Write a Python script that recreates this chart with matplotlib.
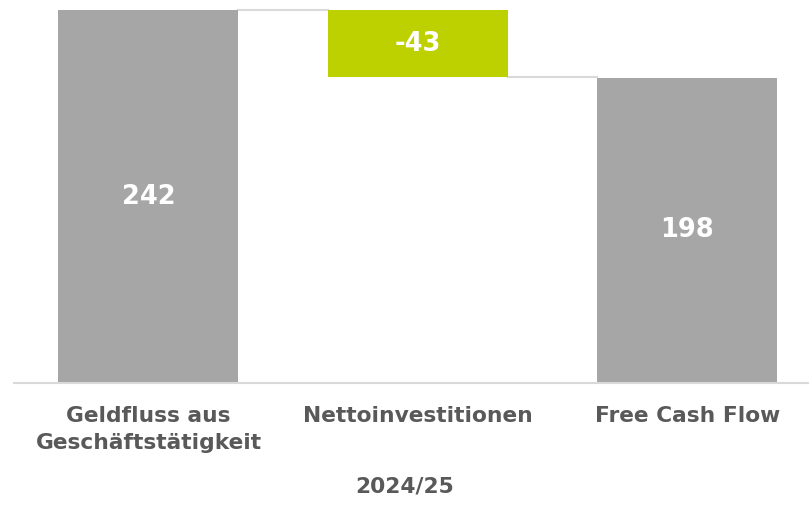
import matplotlib
matplotlib.use("Agg")
import matplotlib.pyplot as plt

categories = ["Geldfluss aus\nGeschäftstätigkeit", "Nettoinvestitionen", "Free Cash Flow"]
start_value = 242
change_value = -43.5
end_value = 198
value_labels = ["242", "-43", "198"]
period_label = "2024/25"

GRAY = "#a6a6a6"
GREEN = "#bdd000"
LINE = "#d9d9d9"
TEXT = "#595959"

plt.rcParams["font.family"] = ["DejaVu Sans"]

fig = plt.figure(figsize=(8.09, 5.19), dpi=100)
ax = fig.add_axes([0, 136 / 519, 1, 383 / 519])

x = [0, 1, 2]
width = 0.668
bottoms = [0, start_value + change_value, 0]
heights = [start_value, -change_value, end_value]
colors = [GRAY, GREEN, GRAY]
ax.bar(x, heights, bottom=bottoms, width=width, color=colors, zorder=2)

# connectors
ax.plot([x[0] + width / 2, x[1] - width / 2], [start_value, start_value], color=LINE, lw=1.5, zorder=1)
ax.plot([x[1] + width / 2, x[2] - width / 2], [start_value + change_value] * 2, color=LINE, lw=1.5, zorder=1)

for xi, b, h, lab in zip(x, bottoms, heights, value_labels):
    ax.text(xi, b + h / 2, lab, ha="center", va="center", color="white",
            fontsize=18.5, fontweight="bold", zorder=3)

ax.set_xlim(-0.551, 2.451)
ax.set_ylim(0, 248.5)
for s in ["top", "right", "left"]:
    ax.spines[s].set_visible(False)
ax.spines["bottom"].set_color(LINE)
ax.spines["bottom"].set_linewidth(1.5)
ax.spines["bottom"].set_bounds(-0.5, 2.451)
ax.set_yticks([])
ax.set_xticks(x)
ax.set_xticklabels(categories, fontsize=15.7, fontweight="bold", color=TEXT)
for t in ax.get_xticklabels():
    t.set_linespacing(1.45)
ax.tick_params(axis="x", length=0, pad=16.5)
ax.patch.set_visible(False)

fig.text(0.5, 33 / 519, period_label, ha="center", va="center", fontsize=15.7,
         fontweight="bold", color=TEXT)

fig.savefig("out.png", dpi=100)
